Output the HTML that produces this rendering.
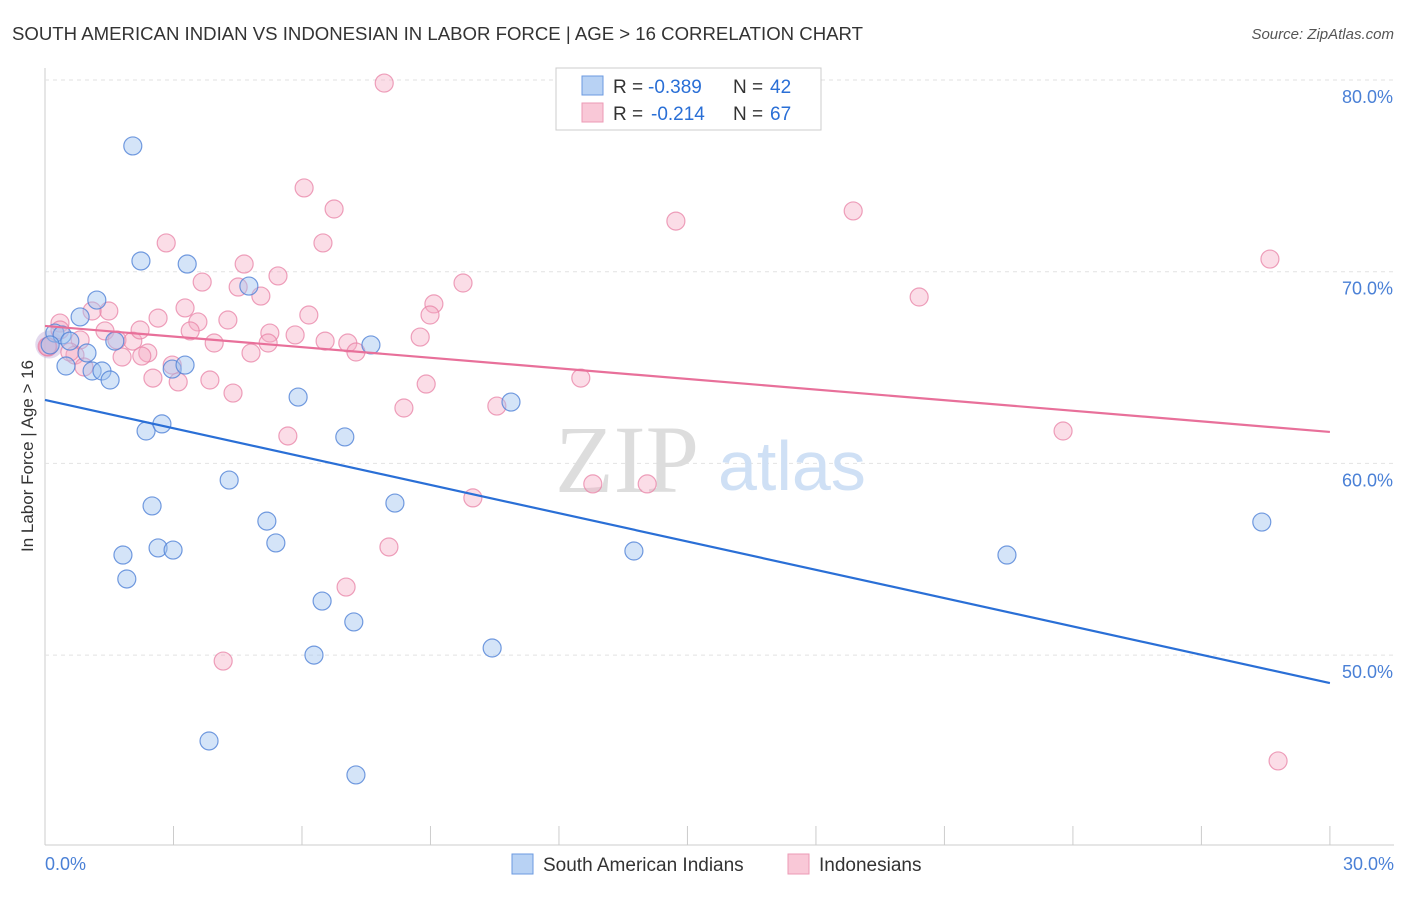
<!DOCTYPE html>
<html><head><meta charset="utf-8"><style>
body{margin:0;background:#fff;font-family:"Liberation Sans",sans-serif;}
</style></head><body>
<svg width="1406" height="892" xmlns="http://www.w3.org/2000/svg" id="chart">
<text x="12" y="40" font-size="18" fill="#333" textLength="851" lengthAdjust="spacingAndGlyphs">SOUTH AMERICAN INDIAN VS INDONESIAN IN LABOR FORCE | AGE &gt; 16 CORRELATION CHART</text>
<text x="1394" y="39" font-size="15" fill="#555" font-style="italic" text-anchor="end">Source: ZipAtlas.com</text>
<text transform="translate(33,456) rotate(-90)" font-size="17" fill="#333" text-anchor="middle">In Labor Force | Age &gt; 16</text>
<g id="grid"></g>
<text x="555" y="492" font-size="96" fill="#ddd" font-family="Liberation Serif,serif">ZIP</text>
<text x="718" y="490" font-size="70" fill="#cfe0f5">atlas</text>
<g id="pts"></g>
<g id="lines"></g>
<g>
<rect x="556" y="68" width="265" height="62" fill="#fff" stroke="#ccc"/>
<rect x="582" y="76" width="21" height="19" fill="#b8d2f4" stroke="#6b9ae0"/>
<rect x="582" y="103" width="21" height="19" fill="#f9c8d7" stroke="#ec9ab5"/>
<text y="93" font-size="19" fill="#333"><tspan x="613">R =</tspan><tspan x="648" fill="#2a6fd6">-0.389</tspan><tspan x="733">N =</tspan><tspan x="770" fill="#2a6fd6">42</tspan></text>
<text y="120" font-size="19" fill="#333"><tspan x="613">R =</tspan><tspan x="651" fill="#2a6fd6">-0.214</tspan><tspan x="733">N =</tspan><tspan x="770" fill="#2a6fd6">67</tspan></text>
</g>
<g>
<rect x="512" y="854" width="21" height="20" fill="#b8d2f4" stroke="#6b9ae0"/>
<text x="543" y="871" font-size="19" fill="#333">South American Indians</text>
<rect x="788" y="854" width="21" height="20" fill="#f9c8d7" stroke="#ec9ab5"/>
<text x="819" y="871" font-size="19" fill="#333">Indonesians</text>
</g>
<text x="45" y="870" font-size="18" fill="#4a80d6">0.0%</text>
<text x="1394" y="870" font-size="18" fill="#4a80d6" text-anchor="end">30.0%</text>
</svg>
<script>
const yTicks=[80,70,60,50];
const yTickLabels=["80.0%","70.0%","60.0%","50.0%"];
const xTicks=[0,3,6,9,12,15,18,21,24,27,30];
const blueX=[2.05,2.24,3.32,4.76,1.21,0.82,0.23,0.40,0.58,0.98,1.63,0.49,1.10,1.33,1.52,2.97,3.27,7.61,5.91,10.88,2.36,2.73,7.00,4.30,2.50,8.17,5.18,1.82,2.64,2.99,5.39,1.91,13.75,22.46,28.41,6.47,7.21,6.28,10.44,3.83,7.26,0.12];
const blueY=[76.56,70.56,70.40,69.25,68.52,67.64,66.80,66.70,66.38,65.76,66.38,65.08,64.82,64.82,64.35,64.92,65.13,66.18,63.46,63.20,61.69,62.06,61.38,59.13,57.78,57.93,56.99,55.22,55.59,55.48,55.85,53.97,55.43,55.22,56.94,52.82,51.73,50.00,50.37,45.52,43.75,66.18];
const pinkX=[7.92,6.05,6.75,2.83,6.49,14.73,18.87,28.60,4.65,5.44,3.67,4.51,5.04,9.76,9.08,8.99,20.41,6.16,2.64,3.27,4.27,3.57,1.49,1.10,0.35,1.40,3.39,5.25,5.84,3.95,5.21,6.54,7.07,8.76,0.82,1.68,2.05,2.40,2.26,1.80,4.81,7.26,0.70,2.97,0.91,2.52,3.11,3.85,12.51,4.39,8.90,8.38,10.55,5.67,23.77,12.79,14.06,9.99,8.03,7.03,4.16,28.79,0.35,0.07,0.58,2.22,0.05];
const pinkY=[79.84,74.37,73.27,71.50,71.50,72.64,73.17,70.66,70.40,69.78,69.46,69.20,68.73,69.41,68.32,67.74,68.68,67.74,67.58,68.11,67.48,67.38,67.95,67.95,67.32,66.91,66.91,66.80,66.70,66.28,66.28,66.38,66.28,66.59,66.44,66.44,66.38,65.76,65.60,65.55,65.76,65.81,65.65,65.13,65.03,64.45,64.25,64.35,64.45,63.67,64.14,62.89,62.99,61.43,61.69,58.93,58.93,58.20,55.64,53.55,49.69,44.48,66.96,66.07,65.81,66.96,66.1];
const blueTrend=[63.31,48.54];
const pinkTrend=[67.17,61.64];
const X=v=>45+v*42.83, Y=v=>80+(80-v)*19.17;
const NS="http://www.w3.org/2000/svg";
function mk(t,a,p){const e=document.createElementNS(NS,t);for(const k in a)e.setAttribute(k,a[k]);p.appendChild(e);return e;}
const grid=document.getElementById('grid');
mk('line',{x1:45,y1:68,x2:45,y2:845,stroke:'#ccc'},grid);
mk('line',{x1:45,y1:845,x2:1394,y2:845,stroke:'#ccc'},grid);
yTicks.forEach((v,i)=>{
 const l=mk('line',{x1:45,y1:Y(v),x2:1394,y2:Y(v),stroke:'#e2e2e2','stroke-dasharray':'4,4'},grid);
 
 
 const t=mk('text',{x:1393,y:Y(v)+23,'font-size':18,fill:'#4a80d6','text-anchor':'end'},grid);
 t.textContent=yTickLabels[i];
 
 
});
xTicks.forEach(v=>{
 const l=mk('line',{x1:X(v),y1:826,x2:X(v),y2:845,stroke:'#ccc'},grid);
 
 
});
const pts=document.getElementById('pts');
const big=mk('circle',{cx:X(0.1),cy:Y(66.2),r:14,fill:'rgba(200,180,220,0.5)',stroke:'none'},pts);


pinkX.forEach((x,i)=>{
 const c=mk('circle',{cx:X(x),cy:Y(pinkY[i]),r:9,fill:'rgba(245,170,195,0.4)',stroke:'rgba(232,130,165,0.75)','stroke-width':1.2},pts);
 
 
});
blueX.forEach((x,i)=>{
 const c=mk('circle',{cx:X(x),cy:Y(blueY[i]),r:9,fill:'rgba(160,195,240,0.45)',stroke:'rgba(80,130,215,0.8)','stroke-width':1.2},pts);
 
 
});
const lines=document.getElementById('lines');
const bl=mk('line',{x1:X(0),y1:Y(blueTrend[0]),x2:X(30),y2:Y(blueTrend[1]),stroke:'#2a6fd6','stroke-width':2.2},lines);


const pl=mk('line',{x1:X(0),y1:Y(pinkTrend[0]),x2:X(30),y2:Y(pinkTrend[1]),stroke:'#e8709a','stroke-width':2.2},lines);


</script>
</body></html>
